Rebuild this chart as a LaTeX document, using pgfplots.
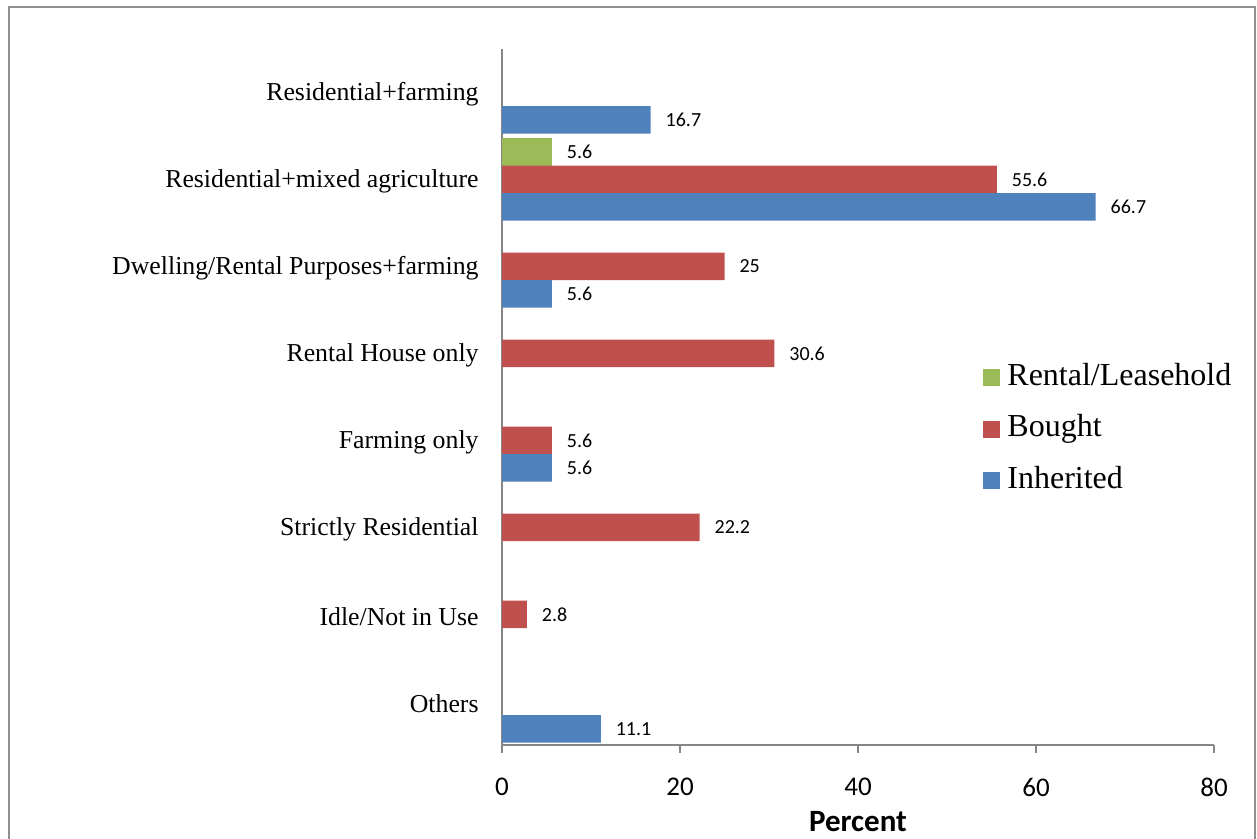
\documentclass[border=0pt]{standalone}
\usepackage{pgfplots}
\pgfplotsset{compat=1.18}
\usepackage{fontspec}
\setmainfont{Liberation Serif}
\newfontfamily\calibri{Carlito}
\definecolor{inh}{HTML}{4F81BD}
\definecolor{bou}{HTML}{C0504D}
\definecolor{ren}{HTML}{9BBB59}
\definecolor{axgray}{HTML}{868686}
\definecolor{framegray}{HTML}{8E8E8E}
\begin{document}
\begin{tikzpicture}
\begin{axis}[
  at={(251pt,47pt)}, anchor=south west,
  scale only axis, width=356pt, height=348pt,
  xbar, bar width=13.75pt,
  xmin=0, xmax=80, ymin=-0.5, ymax=7.5,
  xtick={0,20,40,60,80},
  ytick={0,1,2,3,4,5,6,7},
  yticklabels={Others, Idle/Not in Use, Strictly Residential, Farming only, Rental House only, Dwelling/Rental Purposes+farming, Residential+mixed agriculture, Residential+farming},
  axis x line*=bottom, axis y line*=left,
  x axis line style={-}, y axis line style={-},
  axis line style={axgray, line width=0.6pt},
  xtick align=outside, major tick length=4pt,
  xtick style={axgray, line width=0.6pt},
  ytick style={draw=none},
  /pgf/number format/assume math mode=true,
  xticklabel style={font=\calibri\fontsize{13.5}{16}\selectfont, yshift=-9pt},
  yticklabel style={font=\fontsize{12.9}{15}\selectfont, anchor=east, inner sep=0pt, xshift=-7.5pt, yshift=-1pt},
  xlabel={Percent},
  xlabel style={at={(axis description cs:0.5,0)}, anchor=center, yshift=-38.5pt, font=\calibri\bfseries\fontsize{15.5}{18}\selectfont},
  nodes near coords,
  nodes near coords style={font=\calibri\fontsize{10}{12}\selectfont, anchor=west, xshift=4pt, text=black},
  legend style={at={(0.6756,0.454)}, anchor=west, draw=none, fill=none, inner sep=0pt,
    font=\fontsize{16}{19}\selectfont, row sep=11.25pt, column sep=3.5pt,
    nodes={inner sep=0pt, text height=11pt, text depth=3.5pt}},
  legend cell align=left,
  legend image code/.code={\fill[#1] (0pt,-4.25pt) rectangle (8.5pt,4.25pt);},
  clip=false,
]
\addplot[fill=ren, draw=none, bar shift=13.75pt] coordinates {(5.6,6)};
\addplot[fill=bou, draw=none, bar shift=0pt] coordinates {(2.8,1) (22.2,2) (5.6,3) (30.6,4) (25,5) (55.6,6)};
\addplot[fill=inh, draw=none, bar shift=-13.75pt] coordinates {(11.1,0) (5.6,3) (5.6,5) (66.7,6) (16.7,7)};
\legend{Rental/Leasehold, Bought, Inherited}
\end{axis}
\draw[framegray, line width=1pt] (4.5pt,-2pt) -- (4.5pt,416pt) -- (627.5pt,416pt) -- (627.5pt,-2pt);
\pgfresetboundingbox
\useasboundingbox (0,0) rectangle (628.5pt,419.5pt);
\end{tikzpicture}
\end{document}
